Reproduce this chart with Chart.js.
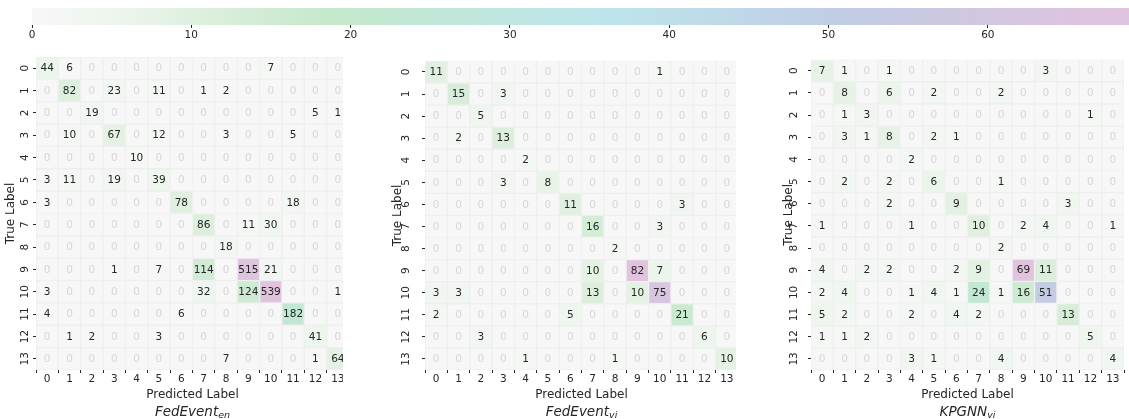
<!DOCTYPE html>
<html>
<head>
<meta charset="utf-8">
<script src="https://cdn.jsdelivr.net/npm/chart.js@4"></script>
<style>
  html, body { margin: 0; padding: 0; background: #fff; overflow: hidden; }
  body { width: 1129px; height: 419px; position: relative; }
  .box { position: absolute; background: #fff; }
</style>
</head>
<body>
<div class="box" style="left:0;top:0;width:1140px;height:46px"><canvas id="cb"></canvas></div>
<div class="box" style="left:0;top:46px;width:356px;height:380px"><canvas id="m1"></canvas></div>
<div class="box" style="left:343px;top:46px;width:400px;height:380px"><canvas id="m2"></canvas></div>
<div class="box" style="left:736px;top:46px;width:393px;height:380px"><canvas id="m3"></canvas></div>

<script>
// class ids on both axes
const classLabels = ['0','1','2','3','4','5','6','7','8','9','10','11','12','13'];

// rows = true label, cols = predicted label
const fedEventEn = [
  [44, 6, 0, 0, 0, 0, 0, 0, 0, 0, 7, 0, 0, 0],
  [0, 82, 0, 23, 0, 11, 0, 1, 2, 0, 0, 0, 0, 0],
  [0, 0, 19, 0, 0, 0, 0, 0, 0, 0, 0, 0, 5, 1],
  [0, 10, 0, 67, 0, 12, 0, 0, 3, 0, 0, 5, 0, 0],
  [0, 0, 0, 0, 10, 0, 0, 0, 0, 0, 0, 0, 0, 0],
  [3, 11, 0, 19, 0, 39, 0, 0, 0, 0, 0, 0, 0, 0],
  [3, 0, 0, 0, 0, 0, 78, 0, 0, 0, 0, 18, 0, 0],
  [0, 0, 0, 0, 0, 0, 0, 86, 0, 11, 30, 0, 0, 0],
  [0, 0, 0, 0, 0, 0, 0, 0, 18, 0, 0, 0, 0, 0],
  [0, 0, 0, 1, 0, 7, 0, 114, 0, 515, 21, 0, 0, 0],
  [3, 0, 0, 0, 0, 0, 0, 32, 0, 124, 539, 0, 0, 1],
  [4, 0, 0, 0, 0, 0, 6, 0, 0, 0, 0, 182, 0, 0],
  [0, 1, 2, 0, 0, 3, 0, 0, 0, 0, 0, 0, 41, 0],
  [0, 0, 0, 0, 0, 0, 0, 0, 7, 0, 0, 0, 1, 64]
];

const fedEventVi = [
  [11, 0, 0, 0, 0, 0, 0, 0, 0, 0, 1, 0, 0, 0],
  [0, 15, 0, 3, 0, 0, 0, 0, 0, 0, 0, 0, 0, 0],
  [0, 0, 5, 0, 0, 0, 0, 0, 0, 0, 0, 0, 0, 0],
  [0, 2, 0, 13, 0, 0, 0, 0, 0, 0, 0, 0, 0, 0],
  [0, 0, 0, 0, 2, 0, 0, 0, 0, 0, 0, 0, 0, 0],
  [0, 0, 0, 3, 0, 8, 0, 0, 0, 0, 0, 0, 0, 0],
  [0, 0, 0, 0, 0, 0, 11, 0, 0, 0, 0, 3, 0, 0],
  [0, 0, 0, 0, 0, 0, 0, 16, 0, 0, 3, 0, 0, 0],
  [0, 0, 0, 0, 0, 0, 0, 0, 2, 0, 0, 0, 0, 0],
  [0, 0, 0, 0, 0, 0, 0, 10, 0, 82, 7, 0, 0, 0],
  [3, 3, 0, 0, 0, 0, 0, 13, 0, 10, 75, 0, 0, 0],
  [2, 0, 0, 0, 0, 0, 5, 0, 0, 0, 0, 21, 0, 0],
  [0, 0, 3, 0, 0, 0, 0, 0, 0, 0, 0, 0, 6, 0],
  [0, 0, 0, 0, 1, 0, 0, 0, 1, 0, 0, 0, 0, 10]
];

const kpgnnVi = [
  [7, 1, 0, 1, 0, 0, 0, 0, 0, 0, 3, 0, 0, 0],
  [0, 8, 0, 6, 0, 2, 0, 0, 2, 0, 0, 0, 0, 0],
  [0, 1, 3, 0, 0, 0, 0, 0, 0, 0, 0, 0, 1, 0],
  [0, 3, 1, 8, 0, 2, 1, 0, 0, 0, 0, 0, 0, 0],
  [0, 0, 0, 0, 2, 0, 0, 0, 0, 0, 0, 0, 0, 0],
  [0, 2, 0, 2, 0, 6, 0, 0, 1, 0, 0, 0, 0, 0],
  [0, 0, 0, 2, 0, 0, 9, 0, 0, 0, 0, 3, 0, 0],
  [1, 0, 0, 0, 1, 0, 0, 10, 0, 2, 4, 0, 0, 1],
  [0, 0, 0, 0, 0, 0, 0, 0, 2, 0, 0, 0, 0, 0],
  [4, 0, 2, 2, 0, 0, 2, 9, 0, 69, 11, 0, 0, 0],
  [2, 4, 0, 0, 1, 4, 1, 24, 1, 16, 51, 0, 0, 0],
  [5, 2, 0, 0, 2, 0, 4, 2, 0, 0, 0, 13, 0, 0],
  [1, 1, 2, 0, 0, 0, 0, 0, 0, 0, 0, 0, 5, 0],
  [0, 0, 0, 0, 3, 1, 0, 0, 4, 0, 0, 0, 0, 4]
];

const colorbarTicks = [0, 10, 20, 30, 40, 50, 60];
const colorbarMax = 69;

// pastel colormap, position 0..1
const cmap = [
  [0.00, '#f7f7f7'], [0.07, '#eef6ee'], [0.145, '#dff0df'], [0.22, '#cfebd3'],
  [0.275, '#c5e9cb'], [0.33, '#c2e8d3'], [0.435, '#bfe6e1'], [0.51, '#bde5ea'],
  [0.58, '#bedfea'], [0.65, '#bfd7e8'], [0.725, '#c0cee4'], [0.80, '#c8cae2'],
  [0.87, '#d2c7df'], [0.94, '#dbc4df'], [1.00, '#e1c3de']
];

function hexRgb(h) {
  return [parseInt(h.slice(1, 3), 16), parseInt(h.slice(3, 5), 16), parseInt(h.slice(5, 7), 16)];
}

function colorFor(t) {
  t = Math.max(0, Math.min(1, t));
  for (let i = 1; i < cmap.length; i++) {
    if (t <= cmap[i][0]) {
      const [p0, c0] = cmap[i - 1], [p1, c1] = cmap[i];
      const f = (t - p0) / (p1 - p0);
      const a = hexRgb(c0), b = hexRgb(c1);
      const m = a.map((v, k) => Math.round(v + (b[k] - v) * f));
      return 'rgb(' + m.join(',') + ')';
    }
  }
  return cmap[cmap.length - 1][1];
}

Chart.defaults.font.family = 'DejaVu Sans';
Chart.defaults.color = '#262626';
const TXT = '#262626';

// colorbar
new Chart(document.getElementById('cb'), {
  type: 'bar',
  data: {
    labels: [''],
    datasets: [{
      data: [[0, colorbarMax]],
      backgroundColor: (ctx) => {
        const chart = ctx.chart, xs = chart.scales.x;
        if (!chart.chartArea || !xs) return cmap[0][1];
        const g = chart.ctx.createLinearGradient(xs.getPixelForValue(0), 0, xs.getPixelForValue(colorbarMax), 0);
        cmap.forEach(([p, c]) => g.addColorStop(p, c));
        return g;
      },
      borderWidth: 0,
      categoryPercentage: 1,
      barPercentage: 1
    }]
  },
  options: {
    indexAxis: 'y',
    responsive: true,
    maintainAspectRatio: false,
    animation: false,
    layout: { padding: { left: 32, right: 8.8, top: 8, bottom: 0 } },
    plugins: { legend: { display: false }, tooltip: { enabled: false } },
    scales: {
      y: { display: false },
      x: {
        type: 'linear', min: 0, max: colorbarMax,
        afterBuildTicks: s => { s.ticks = colorbarTicks.map(v => ({ value: v })); },
        afterFit: s => { s.height = 21; },
        ticks: { font: { size: 10.5 }, color: TXT, padding: 1, maxRotation: 0 },
        grid: { display: true, drawOnChartArea: false, tickLength: 3, color: TXT },
        border: { display: false }
      }
    }
  }
});

const panels = [
  { id: 'm1', values: fedEventEn, name: ['FedEvent', 'en'], boxW: 356, yW: 36, titlePad: 3.3, tickPad: 1.3 },
  { id: 'm2', values: fedEventVi, name: ['FedEvent', 'vi'], boxW: 400, yW: 82, titlePad: 47.8, tickPad: 8.6 },
  { id: 'm3', values: kpgnnVi, name: ['KPGNN', 'vi'], boxW: 393, yW: 75, titlePad: 45.8, tickPad: 7.3 }
];

panels.forEach(p => {
  const vmax = Math.max(...p.values.flat());
  const datasets = p.values.map((row, r) => ({
    data: row.map(() => [r - 0.5, r + 0.5]),
    backgroundColor: row.map(v => colorFor(v / vmax)),
    borderColor: '#efefef',
    borderWidth: 1,
    borderSkipped: false,
    grouped: false,
    categoryPercentage: 1,
    barPercentage: 1
  }));

  const cellText = {
    id: 'cellText',
    afterDatasetsDraw(chart) {
      const ctx = chart.ctx;
      ctx.save();
      ctx.font = '10.5px "DejaVu Sans"';
      ctx.textAlign = 'center';
      ctx.textBaseline = 'middle';
      p.values.forEach((row, r) => {
        chart.getDatasetMeta(r).data.forEach((bar, c) => {
          const pt = bar.getCenterPoint();
          ctx.fillStyle = row[c] === 0 ? '#d6d6d6' : TXT;
          ctx.fillText(String(row[c]), pt.x, pt.y + 0.5);
        });
      });
      ctx.restore();
    }
  };

  // model name under the axis, italic with subscript
  const modelName = {
    id: 'modelName',
    afterDraw(chart) {
      const ctx = chart.ctx, a = chart.chartArea;
      const cx = (a.left + a.right) / 2, y = 415.5 - 46;
      ctx.save();
      ctx.fillStyle = TXT;
      ctx.textBaseline = 'alphabetic';
      ctx.textAlign = 'left';
      ctx.font = 'italic 13.5px "DejaVu Sans"';
      const w1 = ctx.measureText(p.name[0]).width;
      ctx.font = 'italic 9.5px "DejaVu Sans"';
      const w2 = ctx.measureText(p.name[1]).width;
      const x0 = cx - (w1 + w2) / 2;
      ctx.font = 'italic 13.5px "DejaVu Sans"';
      ctx.fillText(p.name[0], x0, y);
      ctx.font = 'italic 9.5px "DejaVu Sans"';
      ctx.fillText(p.name[1], x0 + w1, y + 2.5);
      ctx.restore();
    }
  };

  new Chart(document.getElementById(p.id), {
    type: 'bar',
    data: { labels: classLabels, datasets },
    options: {
      responsive: true,
      maintainAspectRatio: false,
      animation: false,
      layout: { padding: { left: 0, right: p.boxW - p.yW - 313, top: 11, bottom: 24 } },
      plugins: { legend: { display: false }, tooltip: { enabled: false } },
      scales: {
        x: {
          type: 'category',
          afterFit: s => { s.height = 32; },
          ticks: { font: { size: 10.5 }, color: TXT, padding: 0, maxRotation: 0, autoSkip: false },
          grid: { display: true, drawOnChartArea: false, tickLength: 3, color: TXT },
          border: { display: false },
          title: { display: true, text: 'Predicted Label', font: { size: 12 }, color: TXT, padding: { top: 0, bottom: 0 } }
        },
        y: {
          type: 'linear', reverse: true, min: -0.5, max: 13.5,
          afterBuildTicks: s => { s.ticks = classLabels.map(v => ({ value: Number(v) })); },
          afterFit: s => { s.width = p.yW; },
          ticks: {
            font: { size: 10.5 }, color: TXT, padding: p.tickPad,
            minRotation: 90, maxRotation: 90, crossAlign: 'center', autoSkip: false,
            callback: v => String(v)
          },
          grid: { display: true, drawOnChartArea: false, tickLength: 3, color: TXT },
          border: { display: false },
          title: { display: true, text: 'True Label', font: { size: 12 }, color: TXT, padding: { top: p.titlePad, bottom: 0 } }
        }
      }
    },
    plugins: [cellText, modelName]
  });
});
</script>
</body>
</html>
